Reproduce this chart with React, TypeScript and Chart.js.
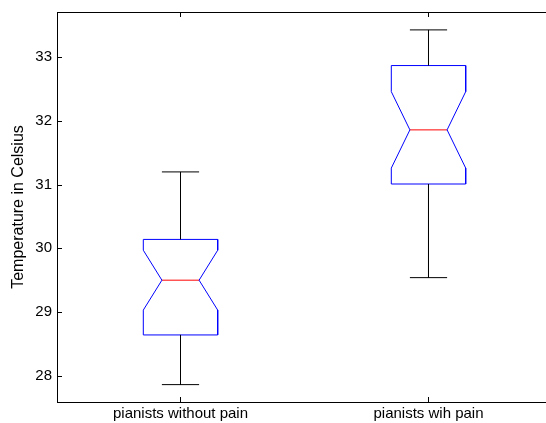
import React, { useEffect, useRef } from "react";
import { Chart, registerables } from "chart.js";

Chart.register(...registerables);

// ---- data ----
const CATEGORIES = ["pianists without pain", "pianists wih pain"];
const WHISKER_LO = [27.86, 29.54];
const Q1 = [28.64, 31.01];
const NOTCH_LO = [29.03, 31.26];
const MEDIAN = [29.5, 31.86];
const NOTCH_HI = [29.97, 32.46];
const Q3 = [30.14, 32.87];
const WHISKER_HI = [31.2, 33.43];
const Y_TICKS = [28, 29, 30, 31, 32, 33];
const Y_TITLE = "Temperature in Celsius";

// ---- styles / geometry ----
const BOX_HALF = 0.15; // in category units
const NOTCH_HALF = BOX_HALF / 2;
const CAP_HALF = BOX_HALF / 2;
const FONT = "'Liberation Sans', Arial, Helvetica, sans-serif";

type P = { x: number; y: number | null };

function buildPoints() {
  const box: P[] = [];
  const med: P[] = [];
  const whisk: P[] = [];
  const gap = (arr: P[], x: number) => arr.push({ x, y: null });
  CATEGORIES.forEach((_, i) => {
    const c = i + 1;
    const L = c - BOX_HALF;
    const R = c + BOX_HALF;
    const nl = c - NOTCH_HALF;
    const nr = c + NOTCH_HALF;
    if (box.length) gap(box, c);
    box.push(
      { x: L, y: Q3[i] },
      { x: R, y: Q3[i] },
      { x: R, y: NOTCH_HI[i] },
      { x: nr, y: MEDIAN[i] },
      { x: R, y: NOTCH_LO[i] },
      { x: R, y: Q1[i] },
      { x: L, y: Q1[i] },
      { x: L, y: NOTCH_LO[i] },
      { x: nl, y: MEDIAN[i] },
      { x: L, y: NOTCH_HI[i] },
      { x: L, y: Q3[i] }
    );
    if (med.length) gap(med, c);
    med.push({ x: nl, y: MEDIAN[i] }, { x: nr, y: MEDIAN[i] });
    if (whisk.length) gap(whisk, c);
    whisk.push({ x: c, y: Q3[i] }, { x: c, y: WHISKER_HI[i] });
    gap(whisk, c);
    whisk.push({ x: c - CAP_HALF, y: WHISKER_HI[i] }, { x: c + CAP_HALF, y: WHISKER_HI[i] });
    gap(whisk, c);
    whisk.push({ x: c, y: Q1[i] }, { x: c, y: WHISKER_LO[i] });
    gap(whisk, c);
    whisk.push({ x: c - CAP_HALF, y: WHISKER_LO[i] }, { x: c + CAP_HALF, y: WHISKER_LO[i] });
  });
  return { box, med, whisk };
}

const frameTicks = {
  id: "frameTicks",
  afterDraw(chart: any) {
    const { ctx, chartArea, scales } = chart;
    const a = (v: number) => Math.round(v) + 0.5;
    ctx.save();
    ctx.strokeStyle = "#000";
    ctx.lineWidth = 1;
    ctx.beginPath();
    // top border
    ctx.moveTo(chartArea.left, a(chartArea.top));
    ctx.lineTo(chartArea.right, a(chartArea.top));
    // y ticks inward
    scales.y.ticks.forEach((t: any) => {
      const y = a(scales.y.getPixelForValue(t.value));
      ctx.moveTo(chartArea.left, y);
      ctx.lineTo(chartArea.left + 5, y);
    });
    // x ticks inward, top and bottom
    scales.x.ticks.forEach((t: any) => {
      const x = Math.floor(scales.x.getPixelForValue(t.value)) + 0.5;
      ctx.moveTo(x, chartArea.bottom);
      ctx.lineTo(x, chartArea.bottom - 5);
      ctx.moveTo(x, chartArea.top);
      ctx.lineTo(x, chartArea.top + 5);
    });
    ctx.stroke();
    ctx.restore();
  },
};

export default function App() {
  const ref = useRef<HTMLCanvasElement>(null);
  useEffect(() => {
    document.body.style.margin = "0";
    const { box, med, whisk } = buildPoints();
    const line = (data: P[], color: string) => ({
      type: "scatter" as const,
      data,
      showLine: true,
      spanGaps: false,
      borderColor: color,
      backgroundColor: color,
      borderWidth: 1,
      pointRadius: 0,
      pointHoverRadius: 0,
      tension: 0,
      fill: false,
    });
    const chart = new Chart(ref.current!, {
      type: "scatter",
      data: {
        datasets: [line(whisk, "#000000"), line(box, "#0000ff"), line(med, "#ff0000")] as any,
      },
      options: {
        animation: false,
        responsive: false,
        events: [],
        layout: { padding: { top: 12, right: 0, left: 0, bottom: 0 } },
        plugins: { legend: { display: false }, tooltip: { enabled: false } },
        scales: {
          x: {
            type: "linear",
            min: 0.502,
            max: 2.4738,
            grid: { display: false, drawTicks: false },
            border: { display: true, color: "#000", width: 1 },
            afterBuildTicks: (s: any) => {
              s.ticks = CATEGORIES.map((_, i) => ({ value: i + 1 }));
            },
            afterFit: (s: any) => {
              s.height = 21;
              s.paddingLeft = 0;
              s.paddingRight = 0;
            },
            ticks: {
              autoSkip: false,
              maxRotation: 0,
              padding: 3,
              color: "#000",
              font: { family: FONT, size: 15 },
              callback: (v: any) => CATEGORIES[Math.round(Number(v)) - 1] ?? "",
            },
          },
          y: {
            type: "linear",
            min: 27.587,
            max: 33.711,
            grid: { display: false, drawTicks: false },
            border: { display: true, color: "#000", width: 1 },
            afterBuildTicks: (s: any) => {
              s.ticks = Y_TICKS.map((v) => ({ value: v }));
            },
            afterFit: (s: any) => {
              s.width = 57;
              s.paddingTop = 0;
              s.paddingBottom = 0;
            },
            ticks: {
              padding: 5,
              color: "#000",
              font: { family: FONT, size: 15 },
              callback: (v: any) => String(v),
            },
            title: {
              display: true,
              text: Y_TITLE,
              color: "#000",
              font: { family: FONT, size: 16 },
              padding: { top: 9, bottom: 0 },
            },
          },
        },
      },
      plugins: [frameTicks],
    });
    return () => chart.destroy();
  }, []);
  return (
    <div style={{ width: 546, height: 423 }}>
      <canvas ref={ref} width={546} height={423} style={{ display: "block" }} />
    </div>
  );
}
